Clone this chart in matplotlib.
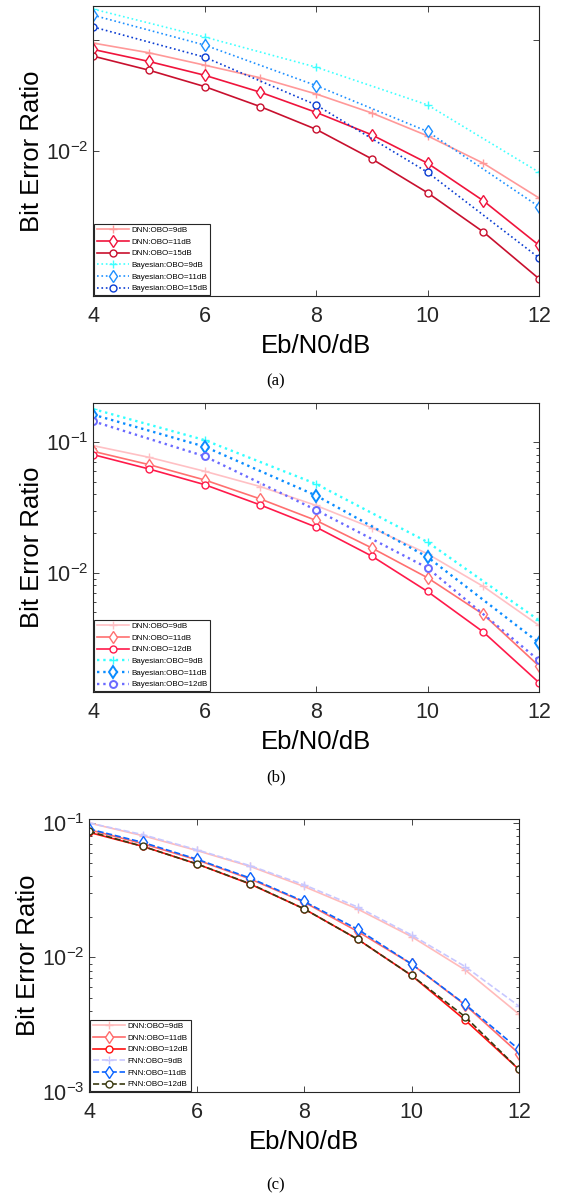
import matplotlib
matplotlib.use('Agg')
import matplotlib.pyplot as plt
from matplotlib.ticker import LogLocator, NullLocator, FixedLocator, NullFormatter

plt.rcParams['font.family'] = ['Liberation Sans', 'DejaVu Sans']
plt.rcParams['mathtext.default'] = 'regular'

# Eb/N0 in dB
snr = [4, 5, 6, 7, 8, 9, 10, 11, 12]
snr_even = [4, 6, 8, 10, 12]

# (a)
a_dnn_9 = [0.0933, 0.0764, 0.0592, 0.0456, 0.0327, 0.0221, 0.0138, 0.00786, 0.00384]
a_dnn_11 = [0.0818, 0.0639, 0.0481, 0.0339, 0.0224, 0.0141, 0.00786, 0.00363, 0.00145]
a_dnn_15 = [0.0713, 0.0534, 0.0381, 0.0252, 0.0158, 0.00859, 0.00428, 0.00191, 0.000728]
a_bay_9 = [0.188, 0.1057, 0.0568, 0.0261, 0.00652]
a_bay_11 = [0.1655, 0.0896, 0.0389, 0.0151, 0.00321]
a_bay_15 = [0.130, 0.0698, 0.0261, 0.00652, 0.00112]

# (b)
b_dnn_9 = [0.0943, 0.0768, 0.0600, 0.0458, 0.0328, 0.0221, 0.01397, 0.00786, 0.00395]
b_dnn_11 = [0.0853, 0.0675, 0.0515, 0.0368, 0.0252, 0.0155, 0.00916, 0.0048, 0.00193]
b_dnn_12 = [0.0805, 0.0625, 0.0474, 0.0331, 0.0224, 0.01343, 0.00719, 0.00352, 0.00144]
b_bay_9 = [0.180, 0.104, 0.048, 0.0172, 0.00432]
b_bay_11 = [0.163, 0.0927, 0.0391, 0.0132, 0.00291]
b_bay_12 = [0.145, 0.0782, 0.0303, 0.0109, 0.00213]

# (c)
c_dnn_9 = [0.100, 0.0804, 0.0625, 0.0475, 0.0337, 0.0229, 0.0143, 0.00807, 0.00379]
c_dnn_11 = [0.0892, 0.0701, 0.0533, 0.0383, 0.0258, 0.0156, 0.00895, 0.00443, 0.00193]
c_dnn_12 = [0.0852, 0.0670, 0.0497, 0.0351, 0.0230, 0.01365, 0.00736, 0.00342, 0.00147]
c_fnn_9 = [0.100, 0.0819, 0.0633, 0.0481, 0.0347, 0.0237, 0.0147, 0.00855, 0.00435]
c_fnn_11 = [0.0902, 0.0717, 0.0539, 0.0389, 0.0261, 0.0162, 0.00895, 0.00448, 0.00207]
c_fnn_12 = [0.0866, 0.0670, 0.0497, 0.0353, 0.0230, 0.01365, 0.00736, 0.00362, 0.00147]

W, H = 562, 1196
fig = plt.figure(figsize=(W / 100, H / 100), dpi=100)


def make_axes(left, right, top, bottom):
    return fig.add_axes([left / W, 1 - bottom / H, (right - left) / W, (bottom - top) / H])


def style_axes(ax, ylim, minor=True):
    ax.set_yscale('log')
    ax.set_xlim(4, 12)
    ax.set_ylim(*ylim)
    ax.set_xticks([4, 6, 8, 10, 12])
    ax.xaxis.set_minor_locator(NullLocator())
    if minor:
        ax.yaxis.set_minor_locator(LogLocator(base=10, subs=range(2, 10)))
        ax.yaxis.set_minor_formatter(NullFormatter())
    else:
        ax.yaxis.set_minor_locator(NullLocator())
    ax.tick_params(which='both', direction='in', top=True, right=True,
                   colors='#262626', labelsize=15.5, width=0.6)
    ax.tick_params(which='major', length=4)
    ax.tick_params(which='minor', length=2.5)
    ax.tick_params(axis='x', pad=7.5)
    ax.tick_params(axis='y', pad=3)
    for s in ax.spines.values():
        s.set_color('#262626')
        s.set_linewidth(0.8)
    ax.set_xlabel('Eb/N0/dB', fontsize=18.5, labelpad=5)
    ax.set_ylabel('Bit Error Ratio', fontsize=18.5, labelpad=2)


def legend(ax):
    leg = ax.legend(loc='lower left', bbox_to_anchor=(0, 0), borderaxespad=0.1,
                    fontsize=5.8, handlelength=4.0, labelspacing=0.5,
                    borderpad=0.35, handletextpad=0.3, fancybox=False,
                    framealpha=1)
    leg.get_frame().set_edgecolor('#262626')
    leg.get_frame().set_linewidth(0.8)


ms = 5
lw = 1.2

# ---- (a)
ax = make_axes(93, 539, 6, 296)
ax.plot(snr, a_dnn_9, '-+', color='#FF9999', lw=lw, ms=ms + 1, label='DNN:OBO=9dB')
ax.plot(snr, a_dnn_11, '-d', color='#F0143C', lw=lw, ms=ms + 1, mfc='white', label='DNN:OBO=11dB')
ax.plot(snr, a_dnn_15, '-o', color='#C8102E', lw=lw, ms=ms, mfc='white', label='DNN:OBO=15dB')
ax.plot(snr_even, a_bay_9, ':+', color='#40FFFF', lw=lw, ms=ms + 1, label='Bayesian:OBO=9dB')
ax.plot(snr_even, a_bay_11, ':d', color='#1E90FF', lw=lw, ms=ms + 1, mfc='white', label='Bayesian:OBO=11dB')
ax.plot(snr_even, a_bay_15, ':o', color='#0A3CD2', lw=lw, ms=ms, mfc='white', label='Bayesian:OBO=15dB')
style_axes(ax, (5.1e-4, 0.2), minor=False)
ax.yaxis.set_major_locator(FixedLocator([0.01, 0.1]))
ax.set_yticklabels(['$10^{-2}$', ''])
legend(ax)

# ---- (b)
ax = make_axes(93, 539, 403, 692)
ax.plot(snr, b_dnn_9, '-+', color='#FFC0C4', lw=lw, ms=ms + 1, label='DNN:OBO=9dB')
ax.plot(snr, b_dnn_11, '-d', color='#FF7070', lw=lw, ms=ms + 1, mfc='white', label='DNN:OBO=11dB')
ax.plot(snr, b_dnn_12, '-o', color='#FF1A4A', lw=lw, ms=ms, mfc='white', label='DNN:OBO=12dB')
ax.plot(snr_even, b_bay_9, ':+', color='#33FFFF', lw=1.7, ms=ms + 1, label='Bayesian:OBO=9dB')
ax.plot(snr_even, b_bay_11, ':d', color='#0A8CFF', lw=1.7, ms=ms + 1, mfc='white', mew=1.4, label='Bayesian:OBO=11dB')
ax.plot(snr_even, b_bay_12, ':o', color='#6A6AFF', lw=1.7, ms=ms, mfc='white', mew=1.4, label='Bayesian:OBO=12dB')
style_axes(ax, (1.22e-3, 0.2))
ax.yaxis.set_major_locator(FixedLocator([0.01, 0.1]))
ax.set_yticklabels(['$10^{-2}$', '$10^{-1}$'])
legend(ax)

# ---- (c)
ax = make_axes(89, 519, 819, 1092)
ax.plot(snr, c_dnn_9, '-+', color='#FFBBBB', lw=lw, ms=ms + 1, label='DNN:OBO=9dB')
ax.plot(snr, c_dnn_11, '-d', color='#FF6B6B', lw=lw, ms=ms + 1, mfc='white', label='DNN:OBO=11dB')
ax.plot(snr, c_dnn_12, '-o', color='#FF1010', lw=lw, ms=ms, mfc='white', label='DNN:OBO=12dB')
ax.plot(snr, c_fnn_9, '--+', color='#C8C8FF', lw=lw, ms=ms + 1, label='FNN:OBO=9dB')
ax.plot(snr, c_fnn_11, '--d', color='#0A64FF', lw=lw, ms=ms + 1, mfc='white', label='FNN:OBO=11dB')
ax.plot(snr, c_fnn_12, '--o', color='#3A3A10', lw=lw, ms=ms, mfc='white', label='FNN:OBO=12dB')
style_axes(ax, (1e-3, 0.107))
ax.yaxis.set_major_locator(FixedLocator([0.001, 0.01, 0.1]))
ax.set_yticklabels(['$10^{-3}$', '$10^{-2}$', '$10^{-1}$'])
legend(ax)

for lab, y in [('(a)', 381), ('(b)', 777), ('(c)', 1185)]:
    fig.text(276 / W, 1 - y / H, lab, ha='center', va='center', fontsize=12,
             family=['Liberation Serif', 'DejaVu Serif'])

fig.savefig('out.png', dpi=100)
